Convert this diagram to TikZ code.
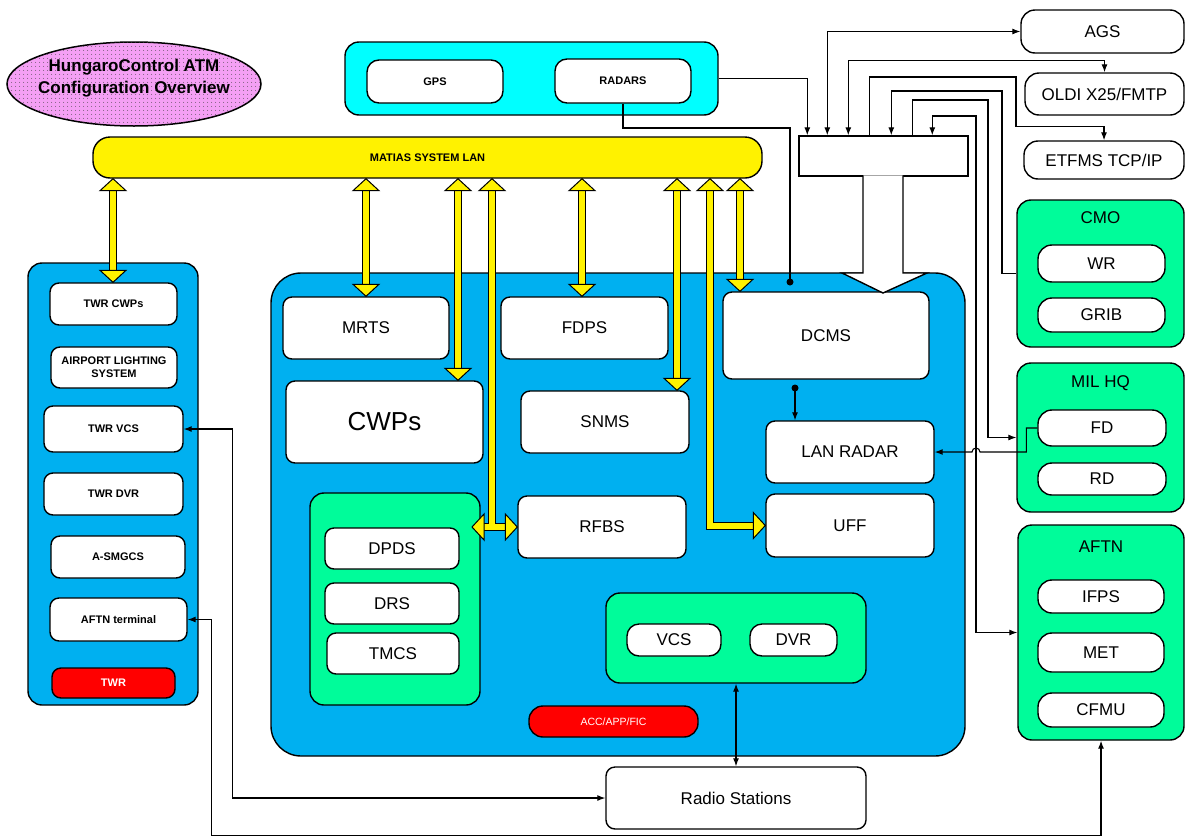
\documentclass[tikz,border=0pt]{standalone}
\usepackage{fontspec}
\setmainfont{Liberation Sans}
\usetikzlibrary{arrows.meta,shapes.geometric,patterns.meta}
\definecolor{accblue}{RGB}{0,176,240}
\definecolor{mint}{RGB}{0,252,154}
\definecolor{sensorcyan}{RGB}{0,255,255}
\definecolor{titlepink}{RGB}{244,160,244}
\begin{document}
\begin{tikzpicture}[x=1pt,y=-1pt,
  wbox/.style={draw,line width=1.4pt,fill=white,rounded corners=9pt,inner sep=0pt,align=center,font=\fontsize{17}{19}\selectfont},
  sbox/.style={wbox,font=\fontsize{11}{13}\selectfont\bfseries},
  pill/.style={wbox,rounded corners=14pt},
  grp/.style={draw,line width=1.4pt,rounded corners=14pt,inner sep=0pt},
  grptitle/.style={inner sep=0pt,font=\fontsize{17}{19}\selectfont},
  link/.style={line width=1.1pt},
  lanlink/.style={double=yellow,double distance=6pt,line width=1pt},
  >={Latex[length=8pt,width=6pt]},
  yhead/.pic={\filldraw[fill=yellow,line width=1pt] (0,0) -- (-12,13) -- (-12,-13) -- cycle;}]
\path[use as bounding box] (0,0) rectangle (1185,838);
\node[draw,line width=1.5pt,ellipse,fill=titlepink,minimum width=254,minimum height=84,inner sep=0pt,postaction={pattern={Dots[distance=4pt,radius=0.55pt]},pattern color=black!75}] (ttl) at (134,84) {};
\node[align=center,inner sep=0pt,font=\fontsize{17}{22}\selectfont\bfseries] (ttltext) at (134,78) {HungaroControl ATM\\Configuration Overview};
\node[grp,fill=sensorcyan,minimum width=373,minimum height=73] (sens) at (531.5,78.5) {};
\node[sbox,rounded corners=12pt,minimum width=136,minimum height=43] (gps) at (435,81.5) {GPS};
\node[sbox,rounded corners=12pt,minimum width=136,minimum height=44] (radars) at (623,81) {RADARS};
\node[grp,fill=yellow,rounded corners=17pt,minimum width=669,minimum height=41,font=\fontsize{11}{13}\selectfont\bfseries] (lan) at (427.5,157.5) {MATIAS SYSTEM LAN};
\node[grp,fill=accblue,minimum width=170,minimum height=442] (twr) at (113,484) {};
\node[sbox,minimum width=127,minimum height=42] (twrcwp) at (113.5,304) {TWR CWPs};
\node[sbox,minimum width=126,minimum height=41] (als) at (114,367.5) {AIRPORT LIGHTING\\SYSTEM};
\node[sbox,minimum width=139,minimum height=46] (twrvcs) at (113.5,429) {TWR VCS};
\node[sbox,minimum width=139,minimum height=42] (twrdvr) at (113.5,494) {TWR DVR};
\node[sbox,minimum width=134,minimum height=42] (asmgcs) at (118,557) {A-SMGCS};
\node[sbox,minimum width=137,minimum height=43] (aftnterm) at (118.5,619.5) {AFTN terminal};
\node[sbox,fill=red,text=white,minimum width=123,minimum height=30] (twrred) at (113.5,683) {TWR};
\node[grp,fill=accblue,rounded corners=30pt,minimum width=694,minimum height=483] (acc) at (618,514.5) {};
\node[wbox,minimum width=166,minimum height=62] (mrts) at (366,328) {MRTS};
\node[wbox,minimum width=167,minimum height=62] (fdps) at (584.5,328) {FDPS};
\node[wbox,minimum width=206,minimum height=87] (dcms) at (826,335.5) {DCMS};
\node[wbox,font=\fontsize{26}{30}\selectfont,minimum width=197,minimum height=82] (cwps) at (384.5,422) {CWPs};
\node[wbox,minimum width=168,minimum height=62] (snms) at (605,422) {SNMS};
\node[wbox,minimum width=168,minimum height=62] (lanradar) at (850,452) {LAN RADAR};
\node[grp,fill=mint,minimum width=170,minimum height=212] (dgrp) at (395,599) {};
\node[wbox,minimum width=134,minimum height=41] (dpds) at (392,548.5) {DPDS};
\node[wbox,minimum width=134,minimum height=41] (drs) at (392,603.5) {DRS};
\node[wbox,minimum width=132,minimum height=41] (tmcs) at (393,653.5) {TMCS};
\node[wbox,minimum width=168,minimum height=62] (rfbs) at (602,527) {RFBS};
\node[wbox,minimum width=168,minimum height=63] (uff) at (850,525.5) {UFF};
\node[grp,fill=mint,minimum width=260,minimum height=90] (vgrp) at (736,638) {};
\node[wbox,rounded corners=12pt,minimum width=94,minimum height=32] (vcs) at (674,640) {VCS};
\node[wbox,rounded corners=12pt,minimum width=87,minimum height=32] (dvr) at (793.5,640) {DVR};
\node[wbox,fill=red,text=white,rounded corners=14pt,font=\fontsize{10.5}{12}\selectfont,minimum width=169,minimum height=31] (accred) at (613.5,721.5) {ACC/APP/FIC};
\node[wbox,minimum width=260,minimum height=62] (radio) at (736,798) {Radio Stations};
\node[pill,minimum width=163,minimum height=43] (ags) at (1102.5,31.5) {AGS};
\node[pill,minimum width=159,minimum height=42] (oldi) at (1104.5,94) {OLDI X25/FMTP};
\node[pill,minimum width=160,minimum height=38] (etfms) at (1104,160) {ETFMS TCP/IP};
\node[grp,fill=mint,minimum width=167,minimum height=147] (cmo) at (1100.5,273.5) {};
\node[grptitle] (cmot) at (1100.5,218) {CMO};
\node[pill,minimum width=127,minimum height=37] (wr) at (1101.5,263.5) {WR};
\node[pill,minimum width=127,minimum height=34] (grib) at (1101.5,315) {GRIB};
\node[grp,fill=mint,minimum width=167,minimum height=149] (milhq) at (1100.5,437.5) {};
\node[grptitle] (milhqt) at (1100.5,383) {MIL HQ};
\node[pill,minimum width=128,minimum height=36] (fd) at (1102,428) {FD};
\node[pill,minimum width=128,minimum height=32] (rd) at (1102,479) {RD};
\node[grp,fill=mint,minimum width=166,minimum height=215] (aftn) at (1101,632.5) {};
\node[grptitle] (aftnt) at (1101,547) {AFTN};
\node[pill,minimum width=126,minimum height=33] (ifps) at (1101,596.5) {IFPS};
\node[pill,minimum width=126,minimum height=39] (met) at (1101,652.5) {MET};
\node[pill,minimum width=126,minimum height=34] (cfmu) at (1101,710) {CFMU};
\node[draw,line width=1.4pt,fill=white,inner sep=0pt,minimum width=169,minimum height=40] (tbar) at (883.5,156) {};
\fill[white] (863,175.3) -- (863,273) -- (842,273) -- (883,293) -- (927,273) -- (903,273) -- (903,175.3) -- cycle;
\draw[line width=1.4pt] (863,175.3) -- (863,273) -- (842,273) -- (883,293) -- (927,273) -- (903,273) -- (903,175.3);
\foreach \x/\target in {113/twrcwp,366/mrts,458/cwps,582/fdps,677/snms,740/dcms}{
  \draw[lanlink,shorten <=11pt,shorten >=11pt] (\x,0 |- lan.south) -- (\x,0 |- \target.north);
  \pic[rotate=90] at (\x,0 |- lan.south) {yhead};
  \pic[rotate=-90] at (\x,0 |- \target.north) {yhead};
}
\draw[lanlink,shorten >=11pt] (483,527) -- (506,527) (492,527) -- (492,0 |- lan.south);
\pic[rotate=90] at (492,0 |- lan.south) {yhead};
\pic[rotate=180] at (472,527) {yhead};
\pic at (rfbs.west) {yhead};
\draw[lanlink,shorten <=11pt,shorten >=11pt] (710,0 |- lan.south) |- (uff.west);
\pic[rotate=90] at (710,0 |- lan.south) {yhead};
\pic at (uff.west) {yhead};
\coordinate (rdot) at (790,282);
\draw[link] (radars.south) |- (rdot |- 0,128) -- (rdot);
\fill (rdot) circle (3.5pt);
\draw[link,->] (sens.east) -| ([xshift=9pt]tbar.north west);
\draw[link,<->] ([xshift=29pt]tbar.north west) |- (ags.west);
\draw[link,<->] ([xshift=50pt]tbar.north west) |- ([yshift=12pt]oldi.north) -- (oldi.north);
\draw[link,->] ([xshift=71pt]tbar.north west) |- (1016,77) |- ([yshift=14pt]etfms.north) -- (etfms.north);
\draw[link,<-] ([xshift=93pt]tbar.north west) |- (1002,91) |- (cmo.west);
\draw[link,->] ([xshift=114pt]tbar.north west) |- (988,100) |- (milhq.west);
\draw[link,<->] ([xshift=134pt]tbar.north west) |- (976,116) |- (aftn.west);
\draw[link,->] (fd.west) -- ++(-11,0) |- (980,452) arc[start angle=0,end angle=180,radius=4pt] -- (lanradar.east);
\coordinate (ddot) at (795,388);
\fill (ddot) circle (3.5pt);
\draw[link,->] (ddot) -- (ddot |- lanradar.north);
\draw[link,<->] (vgrp.south) -- (radio.north);
\draw[link,<->] (twrvcs.east) -- ++(49,0) |- (radio.west);
\draw[link,<->] (aftnterm.east) -- ++(24,0) -- ++(0,216) -| (aftn.south);
\end{tikzpicture}
\end{document}
